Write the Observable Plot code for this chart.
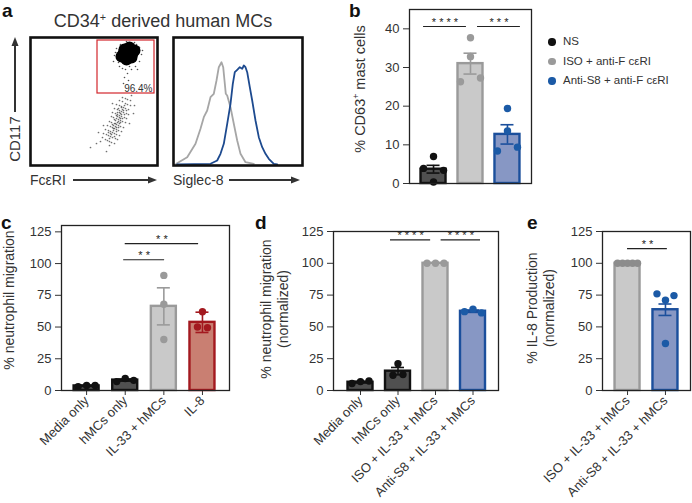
<!DOCTYPE html>
<html><head><meta charset="utf-8">
<script src="https://cdn.jsdelivr.net/npm/d3@7"></script>
<script src="https://cdn.jsdelivr.net/npm/@observablehq/plot@0.6"></script>
<style>
html,body{margin:0;padding:0;background:#fff;}
#fig{position:relative;width:692px;height:503px;overflow:hidden;font-family:"Liberation Sans",Arial,Helvetica,sans-serif;color:#333;background:#fff;}
.abs{position:absolute;line-height:1;white-space:nowrap;}
.vt{position:absolute;transform:translate(-50%,-50%) rotate(-90deg);white-space:nowrap;text-align:center;color:#333;}
sup{font-size:0.6em;vertical-align:0.6em;line-height:0;}
</style></head><body><div id="fig"></div>
<script>
// ---------- panel a : flow cytometry ----------
const scatterLower = [
 [72,28],[75,26],[77,25],[79,24],[81,23],[84,22],
 [73,32],[76,31],[78,30],[80,29],[82,28],[85,27],[87,26],
 [75,36],[78,35],[80,34],[82,33],[84,32],[86,31],[89,30],
 [77,40],[80,39],[82,38],[84,37],[86,36],[88,35],[91,34],
 [79,44],[81,43],[84,42],[86,41],[88,40],[90,39],[93,38],
 [81,49],[83,48],[86,47],[88,46],[90,45],[92,44],[95,43],
 [82,53],[85,52],[87,51],[89,50],[91,49],[94,48],[96,47],
 [84,57],[87,56],[89,55],[91,54],[93,53],[96,52],[98,51],
 [86,61],[89,60],[91,59],[93,58],[95,57],[98,56],
 [89,65],[92,64],[95,62],[97,61],[100,60],
 [92,68],[95,67],[97,66],[100,65],
 [80,32],[83,35],[85,39],[87,43],[89,48],[90,52],[92,56],[94,60],[79,27],[81,31],[83,40],[85,45],
 [87,49],[89,53],[91,58],[86,34],[88,38],[90,43],[92,47],[94,51],[96,55],[84,29],[86,38],[88,44],
 [90,47],[87,53],[85,42],[83,37],[89,42],[91,51],[93,55],[78,33],[82,41],[84,46],[86,50],[88,57],
 [60,18],[70,24],[101,70],[104,60],[73,40],[76,14],[103,52],[68,33],[99,42],[82,62],[66,22],[79,20]];
const blobCore = [[93,112],[102,112],[97.5,116],[97.5,108],[91,109],[104,115],[96,106],[99,118],[94,116],[101,108]];
const blobFringe = [[95,96],[97,92],[94,88],[98,85],[93,82],[84,110],[86,117],[88,103],[90,121],[96,124],[104,123],
 [109,118],[111,111],[109,104],[105,99],[99,99],[85,113],[112,115],[106,121],[89,99],[101,96],[92,97],[107,96],[83,104]];
const gate = [67,124,72,125];
const gateLabel = "96.4%";
const isoHist = [[2.7,1.7],[13.7,8.3],[22,21.7],[27,36.7],[30.3,48.3],[33.7,55],[37,68.3],[40.3,71.7],[43,85],
 [45.3,98.3],[48,103.3],[49.7,98.3],[51,85],[52.3,71.7],[53.7,70],[57,58.3],[60.3,41.7],[63.7,25],[67,11.7],
 [72,3.3],[80.3,1.7]];
const siglecHist = [[3.7,1],[37,1.7],[43.7,5],[47,11.7],[50.3,21.7],[53.7,41.7],[57,61.7],[59.3,81.7],[61.3,93.3],
 [63.7,95.7],[66.3,98.3],[68.7,96.7],[70.3,100],[72,98.3],[73.7,93.3],[76.3,78.3],[78.7,65],[82,45],[85.3,28.3],
 [88.7,18.3],[92,11.7],[95.3,6.7],[100.3,1.7],[103.7,1]];

// ---------- panel b ----------
const bCategories = ["NS","ISO + anti-F cεRI","Anti-S8 + anti-F cεRI"];
const bMeans = [3.7, 31.0, 12.7];
const bSems = [1.0, 2.7, 2.5];
const bPoints = [[7,3.9,3.4,0.4],[37.7,32.8,26.3,27.3],[19.4,13.6,8.4,9.4]];
const bTicks = [0,10,20,30,40];
const bSig = [{x1:-0.27,x2:0.89,y:40.6,label:"****"},{x1:1.19,x2:2.35,y:40.6,label:"***"}];

// ---------- panel c ----------
const cCategories = ["Media only","hMCs only","IL-33 + hMCs","IL-8"];
const cMeans = [3.6, 8.2, 66.3, 53.7];
const cSems = [0.4, 0.8, 14.6, 8];
const cPoints = [[3,4,4],[7,9.5,8],[90.7,68,40.2],[62,50,49.5]];
const cTicks = [0,25,50,75,100,125];
const cSig = [{x1:0.96,x2:2.02,y:103,label:"**"},{x1:1.0,x2:2.9,y:115.7,label:"**"}];

// ---------- panel d ----------
const dCategories = ["Media only","hMCs only","ISO + IL-33 + hMCs","Anti-S8 + IL-33 + hMCs"];
const dMeans = [6.5, 15.2, 100, 62.3];
const dSems = [0.6, 2.9, 0, 0.9];
const dPoints = [[5.5,7,7.5],[21,12,12.5],[100,100,100],[62,64,61]];
const dTicks = [0,25,50,75,100,125];
const dSig = [{x1:0.8,x2:1.87,y:118.4,label:"****"},{x1:2.15,x2:3.2,y:118.4,label:"****"}];

// ---------- panel e ----------
const eCategories = ["ISO + IL-33 + hMCs","Anti-S8 + IL-33 + hMCs"];
const eMeans = [100, 63.5];
const eSems = [0, 4.5];
const ePoints = [[100,100,100,100,100],[76,71,74.6,37]];
const eTicks = [0,25,50,75,100,125];
const eSig = [{x1:0,x2:1.05,y:111.5,label:"**"}];

// ---------- styles ----------
const DARK = {fill:"#505050", stroke:"#111", dot:"#111"};
const GRAY = {fill:"#c9c9c9", stroke:"#9a9a9a", dot:"#9a9a9a"};
const BLUE = {fill:"#8797c4", stroke:"#1b4f9c", dot:"#1b5aa6"};
const RED  = {fill:"#c97f72", stroke:"#a3191f", dot:"#a3191f"};
const FONT = '"Liberation Sans",Arial,Helvetica,sans-serif';

const fig = document.getElementById("fig");

function place(el, left, top){ el.style.position="absolute"; el.style.left=left+"px"; el.style.top=top+"px"; fig.appendChild(el); return el; }
function addText(html, left, baseline, size, extra={}){
  const d=document.createElement("div"); d.className="abs"; d.innerHTML=html;
  d.style.fontSize=size+"px"; Object.assign(d.style, extra);
  place(d, left, baseline - 0.8465*size); return d;
}
function addCenterText(html, cx, baseline, size, extra={}){
  const d=addText(html, cx, baseline, size, extra); d.style.transform="translateX(-50%)"; return d;
}
function addVText(html, cx, cy, size, lh){
  const d=document.createElement("div"); d.className="vt"; d.innerHTML=html;
  d.style.fontSize=size+"px"; d.style.lineHeight=(lh||size*1.15)+"px";
  d.style.left=cx+"px"; d.style.top=cy+"px"; fig.appendChild(d); return d;
}

// simple deterministic dot spreading (GraphPad-like)
function swarm(vals, yppu, pair){
  const idx = vals.map((v,i)=>i).sort((a,b)=>vals[a]-vals[b]);
  const clusters=[]; let cur=[idx[0]];
  for(let k=1;k<idx.length;k++){
    if((vals[idx[k]]-vals[idx[k-1]])*yppu < 7.4) cur.push(idx[k]); else {clusters.push(cur); cur=[idx[k]];}
  }
  clusters.push(cur);
  const off = new Array(vals.length).fill(0);
  for(const c of clusters){
    c.sort((a,b)=>a-b); const n=c.length;
    const s = n>=5 ? 5 : n>=3 ? 8.5 : pair;
    c.forEach((j,k)=>{ off[j]=(k-(n-1)/2)*s; });
  }
  return off;
}

function barPanel(o){
  const ml=50, mr=6, mt=6, mb=o.mb;
  const xppu = o.W/(o.xDomain[1]-o.xDomain[0]);
  const yppu = o.H/(o.yDomain[1]-o.yDomain[0]);
  const hw = 12.5/xppu, cw = 6.5/xppu;
  const bars = o.cats.map((c,i)=>({i, cat:c, mean:o.means[i], sem:o.sems[i]}));
  const marks = [];
  bars.forEach((b,i)=>{
    marks.push(Plot.rectY([b], {x1:d=>d.i-hw, x2:d=>d.i+hw, y1:0, y2:"mean", fill:o.styles[i].fill, stroke:o.styles[i].stroke, strokeWidth:2.4}));
  });
  bars.forEach((b,i)=>{
    if(b.sem>0){
      const st={stroke:o.styles[i].stroke, strokeWidth:1.6};
      marks.push(Plot.ruleX([b], {x:"i", y1:d=>d.mean-d.sem, y2:d=>d.mean+d.sem, ...st}));
      marks.push(Plot.ruleY([b], {y:d=>d.mean+d.sem, x1:d=>d.i-cw, x2:d=>d.i+cw, ...st}));
      marks.push(Plot.ruleY([b], {y:d=>d.mean-d.sem, x1:d=>d.i-cw, x2:d=>d.i+cw, ...st}));
    }
  });
  o.points.forEach((vals,i)=>{
    const off = swarm(vals, yppu, o.pair);
    const pts = vals.map((v,k)=>({x:i+off[k]/xppu, y:v}));
    marks.push(Plot.dot(pts, {x:"x", y:"y", r:3.7, fill:o.styles[i].dot, stroke:"none"}));
  });
  marks.push(Plot.ruleY(o.sig, {y:"y", x1:"x1", x2:"x2", stroke:"#222", strokeWidth:1.2}));
  marks.push(Plot.text(o.sig, {x:d=>(d.x1+d.x2)/2, y:"y", text:d=>d.label.split("").join(" "), lineAnchor:"bottom", dy:-1, fontSize:11, fill:"#222"}));
  marks.push(Plot.frame({stroke:"#222", strokeWidth:1.3}));
  const svg = Plot.plot({
    width: ml+o.W+mr, height: mt+o.H+mb,
    marginLeft:ml, marginRight:mr, marginTop:mt, marginBottom:mb,
    x: o.showX ? {domain:o.xDomain, ticks:o.cats.map((c,i)=>i), tickFormat:i=>o.cats[i], tickRotate:-45, tickSize:5, tickPadding:3, label:null}
               : {domain:o.xDomain, axis:null},
    y: {domain:o.yDomain, ticks:o.yTicks, tickSize:6, tickPadding:4, label:null},
    style:{fontFamily:FONT, fontSize:"13px", color:"#333", background:"transparent", overflow:"visible"},
    marks
  });
  place(svg, o.L-ml, o.T-mt);
}

// ---------- panel a plots ----------
const scatter = Plot.plot({
  width:131, height:132, margin:2,
  x:{domain:[0,127], axis:null}, y:{domain:[0,128], axis:null},
  style:{background:"transparent", overflow:"visible", fontFamily:FONT},
  marks:[
    Plot.dot(scatterLower, {x:d=>d[0], y:d=>d[1], r:0.85, fill:"#333", fillOpacity:0.7, stroke:"none"}),
    Plot.dot(blobFringe, {x:d=>d[0], y:d=>d[1], r:0.8, fill:"#222", fillOpacity:0.8, stroke:"none"}),
    Plot.dot(blobCore, {x:d=>d[0], y:d=>d[1], r:6, fill:"#000", stroke:"none"}),
    Plot.rect([gate], {x1:d=>d[0], x2:d=>d[1], y1:d=>d[2], y2:d=>d[3], fill:"none", stroke:"#d2262c", strokeWidth:1.2}),
    Plot.text([gate], {x:d=>d[1]-2, y:d=>d[2]+2, text:()=>gateLabel, textAnchor:"end", lineAnchor:"bottom", fontSize:10, fill:"#333"}),
    Plot.frame({stroke:"#111", strokeWidth:2.6})
  ]
});
place(scatter, 28, 35);

const hist = Plot.plot({
  width:133, height:132, margin:2,
  x:{domain:[0,129], axis:null}, y:{domain:[0,128], axis:null},
  style:{background:"transparent", overflow:"visible"},
  marks:[
    Plot.line(isoHist, {x:d=>d[0], y:d=>d[1], stroke:"#a6a6a6", strokeWidth:1.8}),
    Plot.line(siglecHist, {x:d=>d[0], y:d=>d[1], stroke:"#1d4a8f", strokeWidth:1.8}),
    Plot.frame({stroke:"#111", strokeWidth:2.6})
  ]
});
place(hist, 171, 35);

// arrows (decoration)
const ns="http://www.w3.org/2000/svg";
const deco=document.createElementNS(ns,"svg");
deco.setAttribute("width",692); deco.setAttribute("height",503);
deco.style.position="absolute"; deco.style.left="0"; deco.style.top="0"; deco.style.pointerEvents="none";
deco.innerHTML = `
 <line x1="15" y1="112" x2="15" y2="44" stroke="#333" stroke-width="2"/>
 <polygon points="15,37 11.5,46 18.5,46" fill="#333"/>
 <line x1="73" y1="180" x2="150" y2="180" stroke="#333" stroke-width="2"/>
 <polygon points="157,180 148,176.5 148,183.5" fill="#333"/>
 <line x1="229" y1="180" x2="293" y2="180" stroke="#333" stroke-width="2"/>
 <polygon points="300,180 291,176.5 291,183.5" fill="#333"/>`;
fig.appendChild(deco);

addCenterText("CD34<sup>+</sup> derived human MCs", 163, 27, 18, {color:"#333"});
addVText("CD117", 15, 139, 15);
addText("FcεRI", 30, 185, 14, {color:"#333"});
addText("Siglec-8", 173, 185, 14, {color:"#333"});

// ---------- bar panels ----------
barPanel({L:409, T:9, W:122, H:174, mb:6, xDomain:[-0.65,2.65], yDomain:[0,45], yTicks:bTicks,
  cats:bCategories, means:bMeans, sems:bSems, points:bPoints, styles:[DARK,GRAY,BLUE], sig:bSig, pair:20, showX:false});
barPanel({L:61, T:225, W:168, H:165, mb:110, xDomain:[-0.65,3.7], yDomain:[0,130], yTicks:cTicks,
  cats:cCategories, means:cMeans, sems:cSems, points:cPoints, styles:[DARK,DARK,GRAY,RED], sig:cSig, pair:10, showX:true});
barPanel({L:333, T:231, W:165, H:159, mb:110, xDomain:[-0.72,3.68], yDomain:[0,125], yTicks:dTicks,
  cats:dCategories, means:dMeans, sems:dSems, points:dPoints, styles:[DARK,DARK,GRAY,BLUE], sig:dSig, pair:10, showX:true});
barPanel({L:602, T:231, W:88, H:159, mb:110, xDomain:[-0.66,1.66], yDomain:[0,125], yTicks:eTicks,
  cats:eCategories, means:eMeans, sems:eSems, points:ePoints, styles:[Object.assign({},GRAY,{dot:"#8c8c8c"}),BLUE], sig:eSig, pair:10, showX:true});

// axis titles
addVText("% CD63<sup>+</sup> mast cells", 360, 89, 14.5);
addVText("% neutrophil migration", 9, 300, 14);
addVText("% neutrophil migration<br>(normalized)", 273.5, 309, 14, 16.5);
addVText("% IL-8 Production<br>(normalized)", 540, 308, 14, 16.5);

// legend b
const legendColors = [DARK.dot, GRAY.dot, BLUE.dot];
bCategories.forEach((c,i)=>{
  const cy = 42 + i*19.5;
  const dot=document.createElement("div");
  Object.assign(dot.style,{width:"7.4px",height:"7.4px",borderRadius:"50%",background:legendColors[i]});
  place(dot, 552-3.7, cy-3.7);
  addText(c, 563, cy+4, 11.5, {color:"#333"});
});

// panel letters
const letters=[["a",2,17],["b",349,17],["c",1,229],["d",255,229],["e",527,229]];
letters.forEach(([t,x,b])=>addText(t,x,b,19,{fontWeight:"bold",color:"#111"}));
</script></body></html>
